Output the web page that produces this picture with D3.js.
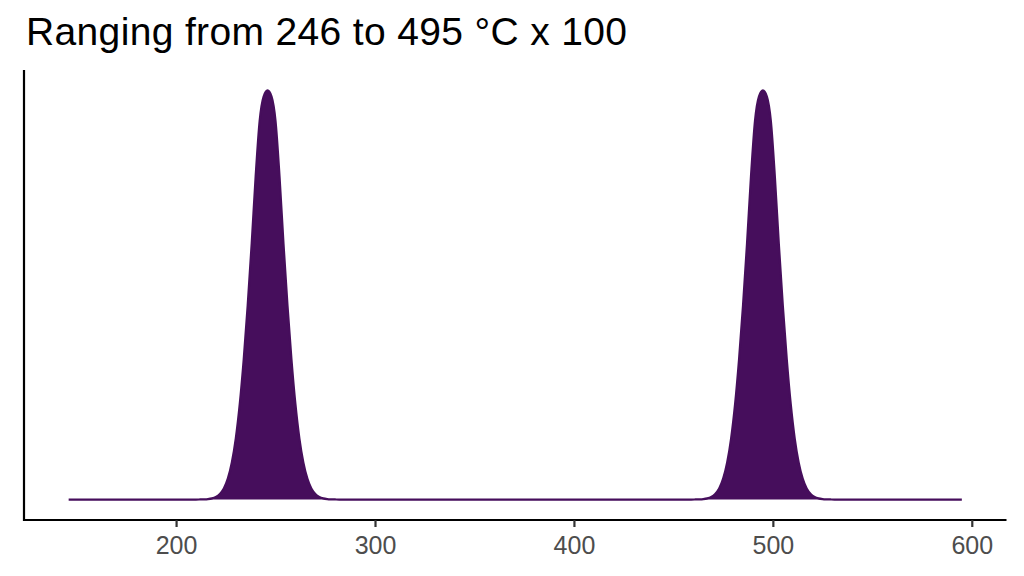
<!DOCTYPE html>
<html>
<head>
<meta charset="utf-8">
<script src="https://cdn.jsdelivr.net/npm/d3@7"></script>
<style>
  body { margin: 0; background: #fff; }
  text { font-family: "Liberation Sans", Arial, sans-serif; }
</style>
</head>
<body>
<div id="container"></div>
<script>
// 图表数据 (读自参考图)
const titleText = "Ranging from 246 to 495 °C x 100";
const xTicks = [200, 300, 400, 500, 600];
const xExtent = [146, 595];

// 密度曲线: 温度 (x) 与相对密度 (y)
const densX = [
  146,
  210, 212, 214, 216, 218, 220, 222, 224, 226, 228, 230, 232, 234, 236, 238, 240, 242, 244,
  246,
  248, 250, 252, 254, 256, 258, 260, 262, 264, 266, 268, 270, 272, 274, 276, 278, 280, 282,
  459, 461, 463, 465, 467, 469, 471, 473, 475, 477, 479, 481, 483, 485, 487, 489, 491, 493,
  495,
  497, 499, 501, 503, 505, 507, 509, 511, 513, 515, 517, 519, 521, 523, 525, 527, 529, 531,
  595
];
const densY = [
  0,
  0, 0.0002, 0.0005, 0.0012, 0.0029, 0.0066, 0.0138, 0.027, 0.051, 0.090, 0.149, 0.233, 0.343, 0.475, 0.625, 0.79, 0.925, 0.985,
  1,
  0.985, 0.925, 0.79, 0.625, 0.475, 0.343, 0.233, 0.149, 0.090, 0.051, 0.027, 0.0138, 0.0066, 0.0029, 0.0012, 0.0005, 0.0002, 0,
  0, 0.0002, 0.0005, 0.0012, 0.0029, 0.0066, 0.0138, 0.027, 0.051, 0.090, 0.149, 0.233, 0.343, 0.475, 0.625, 0.79, 0.925, 0.985,
  1,
  0.985, 0.925, 0.79, 0.625, 0.475, 0.343, 0.233, 0.149, 0.090, 0.051, 0.027, 0.0138, 0.0066, 0.0029, 0.0012, 0.0005, 0.0002, 0,
  0
];

// 布局参数
const svgWidth = 1024;
const svgHeight = 576;
const panel = { left: 24, right: 1006.5, top: 70, bottom: 520 };
const fillColor = "#460e5c";

const points = densX.map((x, i) => ({ x: x, y: densY[i] }));

// 比例尺 (ggplot 式 5% 扩展)
const xPad = (xExtent[1] - xExtent[0]) * 0.05;
const x = d3.scaleLinear()
  .domain([xExtent[0] - xPad, xExtent[1] + xPad])
  .range([panel.left, panel.right]);
const yMax = d3.max(densY);
const y = d3.scaleLinear()
  .domain([-0.05 * yMax, 1.05 * yMax])
  .range([panel.bottom, panel.top]);

const svg = d3.select("#container")
  .append("svg")
  .attr("width", svgWidth)
  .attr("height", svgHeight);

// 标题
svg.append("text")
  .attr("x", 26)
  .attr("y", 45)
  .attr("font-size", 39)
  .attr("letter-spacing", 0.35)
  .attr("fill", "#000")
  .text(titleText);

// 密度面积
const area = d3.area()
  .x(d => x(d.x))
  .y0(y(0))
  .y1(d => y(d.y))
  .curve(d3.curveMonotoneX);

svg.append("path")
  .datum(points)
  .attr("d", area)
  .attr("fill", fillColor);

const line = d3.line()
  .x(d => x(d.x))
  .y(d => y(d.y))
  .curve(d3.curveMonotoneX);

svg.append("path")
  .datum(points)
  .attr("d", line)
  .attr("fill", "none")
  .attr("stroke", fillColor)
  .attr("stroke-width", 2.2);

// x 轴
const xAxis = svg.append("g")
  .attr("transform", `translate(0,${panel.bottom})`)
  .call(d3.axisBottom(x).tickValues(xTicks).tickSize(7).tickPadding(9).tickSizeOuter(0));
xAxis.select(".domain")
  .attr("d", `M${panel.left},0H${panel.right}`)
  .attr("stroke", "#000")
  .attr("stroke-width", 2.2);
xAxis.selectAll(".tick line")
  .attr("stroke", "#333")
  .attr("stroke-width", 2.2);
xAxis.selectAll(".tick text")
  .attr("font-size", 25)
  .attr("fill", "#4d4d4d")
  .attr("font-family", "Liberation Sans, Arial, sans-serif");

// y 轴 (仅轴线)
svg.append("line")
  .attr("x1", panel.left)
  .attr("x2", panel.left)
  .attr("y1", panel.top)
  .attr("y2", panel.bottom + 1.1)
  .attr("stroke", "#000")
  .attr("stroke-width", 2.2);
</script>
</body>
</html>
